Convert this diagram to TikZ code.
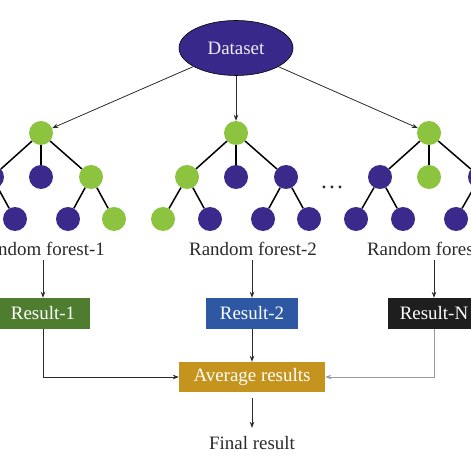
\documentclass[tikz,border=0pt]{standalone}
\usepackage{fontspec}
\setmainfont{Liberation Serif}
\usetikzlibrary{arrows.meta,shapes.geometric}
\definecolor{lgreen}{HTML}{8CC43F}
\definecolor{dpurple}{HTML}{3B2A8C}
\definecolor{dsfill}{HTML}{38288A}
\definecolor{resone}{HTML}{4F7D2F}
\definecolor{restwo}{HTML}{2E58A3}
\definecolor{resn}{HTML}{1E1E1E}
\definecolor{avgc}{HTML}{C5941E}
\definecolor{txtc}{HTML}{2A2A2A}
\begin{document}
\begin{tikzpicture}[x=1bp,y=-1bp,
  every node/.style={font=\fontsize{19}{22}\selectfont},
  gnode/.style={circle,fill=lgreen,minimum size=24bp,inner sep=0pt},
  pnode/.style={circle,fill=dpurple,minimum size=24bp,inner sep=0pt},
  tedge/.style={line width=1.5bp,black},
  arr/.style={line width=0.8bp,draw=txtc,-{Stealth[length=6bp,width=4.5bp]}},
  resbox/.style={rectangle,minimum height=31bp,inner sep=0pt,text=white},
  lab/.style={text=txtc,anchor=base,inner sep=2bp}
]
\useasboundingbox (0,0) rectangle (471,471);
\clip (0,0) rectangle (471,471);

% Dataset
\node[ellipse,draw=black,line width=0.6bp,fill=dsfill,minimum width=114bp,minimum height=55bp,inner sep=0pt,text=white!92!violet] (ds) at (236,48) {Dataset};

% Tree 1
\node[gnode] (t1r) at (41,133) {};
\node[pnode] (t1a) at (-8,177) {};
\node[pnode] (t1b) at (41,177) {};
\node[gnode] (t1c) at (91,177) {};
\node[pnode] (t1a2) at (15,219) {};
\node[pnode] (t1c1) at (68,219) {};
\node[gnode] (t1c2) at (114,219) {};
\draw[tedge] (t1r) -- (t1a);
\draw[tedge] (t1r) -- (t1b);
\draw[tedge] (t1r) -- (t1c);
\draw[tedge] (t1a) -- (t1a2);
\draw[tedge] (t1c) -- (t1c1);
\draw[tedge] (t1c) -- (t1c2);

% Tree 2
\node[gnode] (t2r) at (236,133) {};
\node[gnode] (t2d) at (187,177) {};
\node[pnode] (t2e) at (236,177) {};
\node[pnode] (t2f) at (286,177) {};
\node[gnode] (t2d1) at (163,219) {};
\node[pnode] (t2d2) at (210,219) {};
\node[pnode] (t2f1) at (263,219) {};
\node[pnode] (t2f2) at (309,219) {};
\draw[tedge] (t2r) -- (t2d);
\draw[tedge] (t2r) -- (t2e);
\draw[tedge] (t2r) -- (t2f);
\draw[tedge] (t2d) -- (t2d1);
\draw[tedge] (t2d) -- (t2d2);
\draw[tedge] (t2f) -- (t2f1);
\draw[tedge] (t2f) -- (t2f2);

% Tree 3
\node[gnode] (t3r) at (429,133) {};
\node[pnode] (t3g) at (380,177) {};
\node[gnode] (t3h) at (429,177) {};
\node[pnode] (t3i) at (480,177) {};
\node[pnode] (t3g1) at (356,219) {};
\node[pnode] (t3g2) at (403,219) {};
\node[pnode] (t3i1) at (456,219) {};
\draw[tedge] (t3r) -- (t3g);
\draw[tedge] (t3r) -- (t3h);
\draw[tedge] (t3r) -- (t3i);
\draw[tedge] (t3g) -- (t3g1);
\draw[tedge] (t3g) -- (t3g2);
\draw[tedge] (t3i) -- (t3i1);

% dots
\node[text=txtc,font=\fontsize{24}{24}\selectfont,inner sep=0pt] (dots) at (332,187) {…};

% Dataset arrows
\draw[arr] (ds) -- (t1r);
\draw[arr] (ds) -- (t2r);
\draw[arr] (ds) -- (t3r);

% labels
\node[lab] (lab1) at (41,255) {Random forest-1};
\node[lab] (lab2) at (253,255) {Random forest-2};
\node[lab] (lab3) at (433,255) {Random forest-N};

% results
\node[resbox,fill=resone,minimum width=94bp] (res1) at (43,313.5) {Result-1};
\node[resbox,fill=restwo,minimum width=92bp] (res2) at (252,313.5) {Result-2};
\node[resbox,fill=resn,minimum width=92bp] (resN) at (434,313.5) {Result-N};

\draw[arr] (res1.north |- lab1.south) ++(0,3) -- (res1.north);
\draw[arr] (res2.north |- lab2.south) ++(0,3) -- (res2.north);
\draw[arr] (resN.north |- lab3.south) ++(0,3) -- (resN.north);

% average
\node[resbox,fill=avgc,minimum width=146bp,minimum height=30bp] (avg) at (252,377) {Average results};
\draw[arr] (res1.south) |- (avg.west);
\draw[arr] (res2.south) -- (avg.north);
\draw[arr,draw=gray!80] (resN.south) |- (avg.east);

% final
\node[text=txtc] (fin) at (252,443) {Final result};
\draw[arr,shorten <=6bp,shorten >=5bp] (avg.south) -- (fin.north);
\end{tikzpicture}
\end{document}
